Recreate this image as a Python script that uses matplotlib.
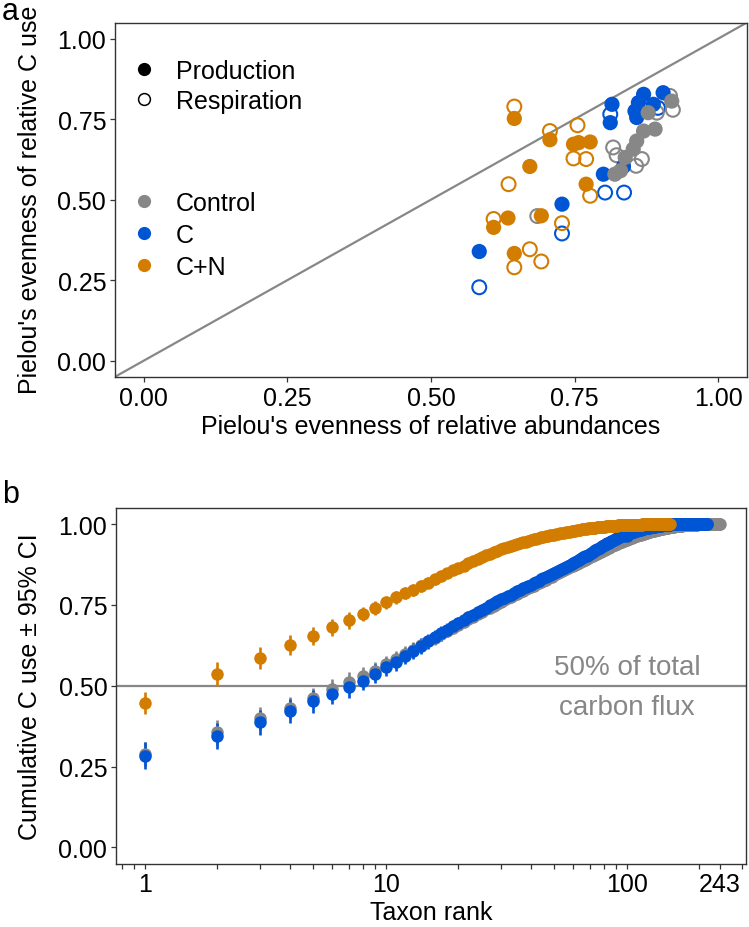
import numpy as np
import matplotlib.pyplot as plt
from matplotlib.lines import Line2D
from matplotlib.ticker import FixedLocator, LogLocator, NullFormatter, FormatStrFormatter

plt.rcParams['font.family'] = ['Liberation Sans', 'DejaVu Sans']

GREY, BLUE, ORANGE = "#878787", "#0055D4", "#D27C00"
INK = "#333333"

# ── panel a: evenness of abundance (x) vs evenness of C use (y) ──────────────
ctrl_prod_x = [0.919, 0.878, 0.890, 0.870, 0.858, 0.852, 0.838, 0.820, 0.830]
ctrl_prod_y = [0.806, 0.770, 0.719, 0.713, 0.682, 0.657, 0.631, 0.579, 0.590]
ctrl_resp_x = [0.916, 0.921, 0.893, 0.872, 0.817, 0.823, 0.867, 0.857, 0.685]
ctrl_resp_y = [0.822, 0.779, 0.770, 0.795, 0.662, 0.638, 0.626, 0.605, 0.449]

c_prod_x = [0.815, 0.812, 0.870, 0.904, 0.861, 0.887, 0.855, 0.858, 0.835, 0.800, 0.728, 0.584]
c_prod_y = [0.796, 0.739, 0.827, 0.832, 0.801, 0.796, 0.775, 0.755, 0.603, 0.579, 0.486, 0.339]
c_resp_x = [0.812, 0.895, 0.803, 0.836, 0.728, 0.584]
c_resp_y = [0.765, 0.785, 0.522, 0.522, 0.395, 0.228]

cn_prod_x = [0.645, 0.707, 0.748, 0.757, 0.777, 0.672, 0.770, 0.692, 0.634, 0.609, 0.645]
cn_prod_y = [0.752, 0.686, 0.672, 0.677, 0.679, 0.603, 0.548, 0.450, 0.443, 0.414, 0.333]
cn_resp_x = [0.645, 0.707, 0.755, 0.748, 0.770, 0.635, 0.777, 0.609, 0.728, 0.672, 0.692, 0.645]
cn_resp_y = [0.789, 0.713, 0.731, 0.628, 0.626, 0.548, 0.512, 0.440, 0.427, 0.346, 0.308, 0.290]

# ── panel b: cumulative C use by taxon rank (mean, 95% CI half-width) ────────
cn_cum = [
    0.447, 0.537, 0.586, 0.626, 0.655, 0.681, 0.702, 0.722, 0.741, 0.758,
    0.774, 0.786, 0.797, 0.808, 0.818, 0.829, 0.839, 0.848, 0.857, 0.865,
    0.872, 0.879, 0.886, 0.892, 0.898, 0.904, 0.909, 0.914, 0.918, 0.922,
    0.926, 0.929, 0.932, 0.935, 0.938, 0.941, 0.944, 0.946, 0.949, 0.951,
    0.953, 0.955, 0.957, 0.959, 0.961, 0.962, 0.964, 0.965, 0.967, 0.968,
    0.969, 0.971, 0.972, 0.973, 0.974, 0.975, 0.976, 0.977, 0.978, 0.979,
    0.980, 0.981, 0.982, 0.983, 0.984, 0.985, 0.985, 0.986, 0.987, 0.987,
    0.988, 0.988, 0.989, 0.989, 0.990, 0.990, 0.991, 0.991, 0.992, 0.992,
    0.992, 0.993, 0.993, 0.993, 0.994, 0.994, 0.994, 0.995, 0.995, 0.995,
    0.995, 0.996, 0.996, 0.996, 0.996, 0.997, 0.997, 0.997, 0.997, 0.997,
    0.998, 0.998, 0.998, 0.998, 0.998, 0.998, 0.998, 0.998, 0.998, 0.998,
    0.998, 0.998, 0.998, 0.998, 0.998, 0.999, 0.999, 0.999, 0.999, 0.999,
    0.999, 0.999, 0.999, 0.999, 0.999, 0.999, 0.999, 0.999, 0.999, 0.999,
    0.999, 0.999, 0.999, 0.999, 0.999, 1.000, 1.000, 1.000, 1.000, 1.000,
    1.000, 1.000, 1.000, 1.000, 1.000, 1.000, 1.000, 1.000, 1.000, 1.000,
    1.000,
]
cn_ci = [
    0.035, 0.037, 0.035, 0.030, 0.028, 0.027, 0.025, 0.023, 0.022, 0.021,
    0.020, 0.019, 0.018, 0.018, 0.017, 0.016, 0.016, 0.015, 0.015, 0.014,
    0.014, 0.013, 0.013, 0.012, 0.012, 0.011, 0.011, 0.011, 0.010, 0.010,
    0.010, 0.009, 0.009, 0.009, 0.009, 0.008, 0.008, 0.008, 0.008, 0.007,
    0.007, 0.007, 0.007, 0.007, 0.006, 0.006, 0.006, 0.006, 0.006, 0.006,
    0.006, 0.006, 0.005, 0.005, 0.005, 0.005, 0.005, 0.005, 0.005, 0.005,
    0.005, 0.004, 0.004, 0.004, 0.004, 0.004, 0.004, 0.004, 0.004, 0.004,
    0.004, 0.003, 0.003, 0.003, 0.003, 0.003, 0.003, 0.003, 0.003, 0.003,
    0.003, 0.003, 0.003, 0.003, 0.003, 0.003, 0.003, 0.003, 0.003, 0.003,
    0.002, 0.002, 0.002, 0.002, 0.002, 0.002, 0.002, 0.002, 0.002, 0.002,
    0.002, 0.002, 0.002, 0.002, 0.002, 0.002, 0.002, 0.002, 0.002, 0.002,
    0.001, 0.001, 0.001, 0.001, 0.001, 0.001, 0.001, 0.001, 0.001, 0.001,
    0.001, 0.001, 0.001, 0.001, 0.001, 0.001, 0.001, 0.001, 0.001, 0.001,
    0.001, 0.001, 0.001, 0.001, 0.001, 0.001, 0.001, 0.001, 0.001, 0.001,
    0.001, 0.001, 0.001, 0.001, 0.001, 0.001, 0.001, 0.001, 0.001, 0.001,
    0.001,
]

c_cum = [
    0.284, 0.344, 0.387, 0.421, 0.452, 0.475, 0.495, 0.516, 0.537, 0.557,
    0.574, 0.592, 0.608, 0.623, 0.637, 0.650, 0.662, 0.673, 0.684, 0.694,
    0.703, 0.712, 0.720, 0.728, 0.735, 0.742, 0.749, 0.755, 0.761, 0.767,
    0.772, 0.777, 0.782, 0.787, 0.792, 0.797, 0.801, 0.805, 0.809, 0.813,
    0.817, 0.821, 0.825, 0.829, 0.832, 0.836, 0.839, 0.843, 0.846, 0.849,
    0.853, 0.856, 0.859, 0.862, 0.865, 0.868, 0.871, 0.874, 0.877, 0.880,
    0.883, 0.886, 0.889, 0.892, 0.894, 0.897, 0.900, 0.902, 0.905, 0.908,
    0.911, 0.914, 0.917, 0.919, 0.922, 0.924, 0.927, 0.929, 0.932, 0.934,
    0.936, 0.938, 0.941, 0.943, 0.945, 0.947, 0.949, 0.951, 0.953, 0.955,
    0.956, 0.958, 0.960, 0.961, 0.963, 0.964, 0.966, 0.967, 0.968, 0.962,
    0.971, 0.972, 0.973, 0.974, 0.975, 0.976, 0.977, 0.978, 0.979, 0.980,
    0.981, 0.982, 0.982, 0.983, 0.984, 0.985, 0.985, 0.986, 0.987, 0.987,
    0.988, 0.988, 0.989, 0.989, 0.990, 0.990, 0.991, 0.991, 0.992, 0.992,
    0.992, 0.993, 0.993, 0.994, 0.994, 0.994, 0.995, 0.995, 0.995, 0.996,
    0.996, 0.996, 0.997, 0.997, 0.997, 0.997, 0.998, 0.998, 0.998, 0.998,
    0.998, 0.999, 0.999, 0.999, 0.999, 0.999, 0.999, 0.999, 0.999, 0.999,
    0.999, 0.999, 0.999, 0.999, 0.999, 0.999, 0.999, 0.999, 0.999, 0.999,
    0.999, 0.999, 0.999, 0.999, 0.999, 0.999, 0.999, 0.999, 0.999, 0.999,
    1.000, 1.000, 1.000, 1.000, 1.000, 1.000, 1.000, 1.000, 1.000, 1.000,
    1.000, 1.000, 1.000, 1.000, 1.000, 1.000, 1.000, 1.000, 1.000, 1.000,
    1.000, 1.000, 1.000, 1.000, 1.000, 1.000, 1.000, 1.000, 1.000, 1.000,
    1.000, 1.000, 1.000, 1.000, 1.000,
]
c_ci = [
    0.041, 0.041, 0.039, 0.037, 0.035, 0.033, 0.032, 0.030, 0.029, 0.028,
    0.027, 0.026, 0.025, 0.024, 0.023, 0.022, 0.022, 0.021, 0.020, 0.020,
    0.019, 0.019, 0.018, 0.018, 0.017, 0.017, 0.016, 0.016, 0.015, 0.015,
    0.015, 0.014, 0.014, 0.014, 0.013, 0.013, 0.013, 0.012, 0.012, 0.012,
    0.012, 0.011, 0.011, 0.011, 0.011, 0.010, 0.010, 0.010, 0.010, 0.010,
    0.009, 0.009, 0.009, 0.009, 0.009, 0.009, 0.009, 0.009, 0.009, 0.009,
    0.008, 0.008, 0.008, 0.008, 0.008, 0.008, 0.008, 0.008, 0.008, 0.008,
    0.007, 0.007, 0.007, 0.007, 0.007, 0.007, 0.007, 0.007, 0.007, 0.007,
    0.006, 0.006, 0.006, 0.006, 0.006, 0.006, 0.006, 0.006, 0.006, 0.006,
    0.005, 0.005, 0.005, 0.005, 0.005, 0.005, 0.005, 0.005, 0.005, 0.008,
    0.004, 0.004, 0.004, 0.004, 0.004, 0.004, 0.004, 0.004, 0.004, 0.004,
    0.004, 0.004, 0.004, 0.004, 0.004, 0.004, 0.004, 0.004, 0.004, 0.004,
    0.003, 0.003, 0.003, 0.003, 0.003, 0.003, 0.003, 0.003, 0.003, 0.003,
    0.003, 0.003, 0.003, 0.003, 0.003, 0.003, 0.003, 0.003, 0.003, 0.003,
    0.002, 0.002, 0.002, 0.002, 0.002, 0.002, 0.002, 0.002, 0.002, 0.002,
    0.002, 0.002, 0.002, 0.002, 0.002, 0.002, 0.002, 0.002, 0.002, 0.002,
    0.002, 0.002, 0.002, 0.002, 0.002, 0.002, 0.002, 0.002, 0.002, 0.002,
    0.001, 0.001, 0.001, 0.001, 0.001, 0.001, 0.001, 0.001, 0.001, 0.001,
    0.001, 0.001, 0.001, 0.001, 0.001, 0.001, 0.001, 0.001, 0.001, 0.001,
    0.001, 0.001, 0.001, 0.001, 0.001, 0.001, 0.001, 0.001, 0.001, 0.001,
    0.001, 0.001, 0.001, 0.001, 0.001, 0.001, 0.001, 0.001, 0.001, 0.001,
    0.001, 0.001, 0.001, 0.001, 0.001,
]

ctrl_cum = [
    0.289, 0.356, 0.399, 0.432, 0.462, 0.490, 0.511, 0.531, 0.547, 0.567,
    0.583, 0.598, 0.612, 0.625, 0.637, 0.648, 0.659, 0.669, 0.679, 0.689,
    0.698, 0.706, 0.714, 0.722, 0.729, 0.736, 0.742, 0.748, 0.754, 0.760,
    0.765, 0.770, 0.775, 0.780, 0.785, 0.790, 0.794, 0.798, 0.802, 0.806,
    0.810, 0.814, 0.818, 0.821, 0.825, 0.828, 0.832, 0.835, 0.838, 0.842,
    0.845, 0.848, 0.851, 0.854, 0.857, 0.860, 0.863, 0.866, 0.869, 0.872,
    0.874, 0.877, 0.880, 0.882, 0.885, 0.887, 0.890, 0.892, 0.895, 0.897,
    0.900, 0.902, 0.904, 0.907, 0.909, 0.911, 0.913, 0.915, 0.917, 0.919,
    0.921, 0.923, 0.925, 0.927, 0.929, 0.931, 0.933, 0.934, 0.936, 0.938,
    0.939, 0.941, 0.942, 0.944, 0.945, 0.947, 0.948, 0.950, 0.951, 0.952,
    0.954, 0.955, 0.956, 0.957, 0.958, 0.960, 0.961, 0.962, 0.963, 0.964,
    0.965, 0.966, 0.967, 0.968, 0.969, 0.970, 0.971, 0.971, 0.972, 0.973,
    0.974, 0.975, 0.975, 0.976, 0.977, 0.978, 0.978, 0.979, 0.980, 0.980,
    0.981, 0.982, 0.982, 0.983, 0.983, 0.984, 0.984, 0.985, 0.985, 0.986,
    0.986, 0.987, 0.987, 0.988, 0.988, 0.988, 0.989, 0.989, 0.990, 0.990,
    0.990, 0.991, 0.991, 0.991, 0.992, 0.992, 0.992, 0.993, 0.993, 0.993,
    0.993, 0.994, 0.994, 0.994, 0.994, 0.995, 0.995, 0.995, 0.995, 0.996,
    0.996, 0.996, 0.996, 0.996, 0.997, 0.997, 0.997, 0.997, 0.997, 0.997,
    0.998, 0.998, 0.998, 0.998, 0.998, 0.998, 0.998, 0.998, 0.998, 0.998,
    0.998, 0.998, 0.998, 0.998, 0.998, 0.999, 0.999, 0.999, 0.999, 0.999,
    0.999, 0.999, 0.999, 0.999, 0.999, 0.999, 0.999, 0.999, 0.999, 0.999,
    0.999, 0.999, 0.999, 0.999, 0.999, 0.999, 0.999, 0.999, 0.999, 0.999,
    1.000, 1.000, 1.000, 1.000, 1.000, 1.000, 1.000, 1.000, 1.000, 1.000,
    1.000, 1.000, 1.000, 1.000, 1.000, 1.000, 1.000, 1.000, 1.000, 1.000,
    1.000, 1.000, 1.000,
]
ctrl_ci = [
    0.038, 0.038, 0.036, 0.034, 0.032, 0.031, 0.030, 0.028, 0.027, 0.026,
    0.025, 0.024, 0.023, 0.022, 0.021, 0.021, 0.020, 0.019, 0.019, 0.018,
    0.018, 0.017, 0.017, 0.016, 0.016, 0.015, 0.015, 0.015, 0.014, 0.014,
    0.014, 0.013, 0.013, 0.013, 0.012, 0.012, 0.012, 0.011, 0.011, 0.011,
    0.011, 0.010, 0.010, 0.010, 0.010, 0.009, 0.009, 0.009, 0.009, 0.009,
    0.008, 0.008, 0.008, 0.008, 0.008, 0.008, 0.008, 0.008, 0.008, 0.008,
    0.007, 0.007, 0.007, 0.007, 0.007, 0.007, 0.007, 0.007, 0.007, 0.007,
    0.006, 0.006, 0.006, 0.006, 0.006, 0.006, 0.006, 0.006, 0.006, 0.006,
    0.005, 0.005, 0.005, 0.005, 0.005, 0.005, 0.005, 0.005, 0.005, 0.005,
    0.005, 0.005, 0.005, 0.005, 0.005, 0.005, 0.005, 0.005, 0.005, 0.005,
    0.004, 0.004, 0.004, 0.004, 0.004, 0.004, 0.004, 0.004, 0.004, 0.004,
    0.004, 0.004, 0.004, 0.004, 0.004, 0.004, 0.004, 0.004, 0.004, 0.004,
    0.003, 0.003, 0.003, 0.003, 0.003, 0.003, 0.003, 0.003, 0.003, 0.003,
    0.003, 0.003, 0.003, 0.003, 0.003, 0.003, 0.003, 0.003, 0.003, 0.003,
    0.003, 0.003, 0.003, 0.003, 0.003, 0.003, 0.003, 0.003, 0.003, 0.003,
    0.002, 0.002, 0.002, 0.002, 0.002, 0.002, 0.002, 0.002, 0.002, 0.002,
    0.002, 0.002, 0.002, 0.002, 0.002, 0.002, 0.002, 0.002, 0.002, 0.002,
    0.002, 0.002, 0.002, 0.002, 0.002, 0.002, 0.002, 0.002, 0.002, 0.002,
    0.001, 0.001, 0.001, 0.001, 0.001, 0.001, 0.001, 0.001, 0.001, 0.001,
    0.001, 0.001, 0.001, 0.001, 0.001, 0.001, 0.001, 0.001, 0.001, 0.001,
    0.001, 0.001, 0.001, 0.001, 0.001, 0.001, 0.001, 0.001, 0.001, 0.001,
    0.001, 0.001, 0.001, 0.001, 0.001, 0.001, 0.001, 0.001, 0.001, 0.001,
    0.001, 0.001, 0.001, 0.001, 0.001, 0.001, 0.001, 0.001, 0.001, 0.001,
    0.001, 0.001, 0.001, 0.001, 0.001, 0.001, 0.001, 0.001, 0.001, 0.001,
    0.001, 0.001, 0.001,
]

rank_ticks = [1, 10, 100, 243]

W, H = 749, 928
FS = 18


def box(left, top, right, bottom):
    """Axes rectangle from pixel edges (origin top-left)."""
    return [left / W, 1 - bottom / H, (right - left) / W, (bottom - top) / H]


def style_axes(ax):
    for sp in ax.spines.values():
        sp.set_color(INK)
        sp.set_linewidth(1.0)
    ax.tick_params(which="both", direction="out", length=3.8, width=0.9,
                   color=INK, labelsize=FS, labelcolor="black", pad=2.5)


fig = plt.figure(figsize=(W / 100, H / 100), dpi=100, facecolor="white")

# ── panel a ──────────────────────────────────────────────────────────────────
ax = fig.add_axes(box(115, 23.5, 747, 377.8))
ax.axline((0, 0), (1, 1), color=GREY, lw=1.6, zorder=1)

for xs, ys, col in [(c_resp_x, c_resp_y, BLUE),
                    (ctrl_resp_x, ctrl_resp_y, GREY),
                    (cn_resp_x, cn_resp_y, ORANGE)]:
    ax.scatter(xs, ys, s=100, facecolors="none", edgecolors=col,
               linewidths=1.5, zorder=2)
for xs, ys, col in [(c_prod_x, c_prod_y, BLUE),
                    (ctrl_prod_x, ctrl_prod_y, GREY),
                    (cn_prod_x, cn_prod_y, ORANGE)]:
    ax.scatter(xs, ys, s=120, color=col, edgecolors="none", zorder=3)

ax.set_xlim(-0.05, 1.05)
ax.set_ylim(-0.05, 1.05)
ticks = [0, 0.25, 0.5, 0.75, 1.0]
ax.set_xticks(ticks)
ax.set_yticks(ticks)
ax.xaxis.set_major_formatter(FormatStrFormatter("%.2f"))
ax.yaxis.set_major_formatter(FormatStrFormatter("%.2f"))
style_axes(ax)
ax.set_xlabel("Pielou's evenness of relative abundances", fontsize=FS, labelpad=3)

h_type = [Line2D([], [], ls="none", marker="o", ms=9.5, mfc="black", mec="black", mew=0),
          Line2D([], [], ls="none", marker="o", ms=8.5, mfc="none", mec="black", mew=1.1)]
leg1 = ax.legend(h_type, ["Production", "Respiration"], loc="upper left",
                 bbox_to_anchor=(131 / W, 1 - 60 / H), bbox_transform=fig.transFigure,
                 frameon=False, borderpad=0, borderaxespad=0, handlelength=1.0,
                 handletextpad=0.8, labelspacing=0.24, fontsize=FS)
ax.add_artist(leg1)
h_trt = [Line2D([], [], ls="none", marker="o", ms=9.5, mfc=c, mec=c, mew=0)
         for c in (GREY, BLUE, ORANGE)]
ax.legend(h_trt, ["Control", "C", "C+N"], loc="upper left",
          bbox_to_anchor=(131 / W, 1 - 192 / H), bbox_transform=fig.transFigure,
          frameon=False, borderpad=0, borderaxespad=0, handlelength=1.0,
          handletextpad=0.8, labelspacing=0.32, fontsize=FS)

fig.text(30 / W, 1 - 200 / H, "Pielou's evenness of relative C use", rotation=90,
         ha="center", va="center", fontsize=FS)
fig.text(2 / W, 1 - 20 / H, "a", fontsize=22, va="baseline")

# ── panel b ──────────────────────────────────────────────────────────────────
bx = fig.add_axes(box(116, 509, 746, 864.5))
bx.axhline(0.5, color=GREY, lw=1.6, zorder=1)

for vals, ci, col in [(ctrl_cum, ctrl_ci, GREY),
                      (c_cum, c_ci, BLUE),
                      (cn_cum, cn_ci, ORANGE)]:
    rank = np.arange(1, len(vals) + 1)
    bx.errorbar(rank, vals, yerr=ci, fmt="o", color=col, ms=9, mew=0,
                elinewidth=1.9, capsize=3.6, capthick=1.9, zorder=2)

bx.text(100, 0.537, "50% of total", color=GREY, fontsize=20,
        ha="center", va="baseline")
bx.text(100, 0.413, "carbon flux", color=GREY, fontsize=20,
        ha="center", va="baseline")

bx.set_xscale("log")
bx.set_xlim(10 ** -0.12, 10 ** 2.494)
bx.set_ylim(-0.05, 1.05)
bx.xaxis.set_major_locator(FixedLocator(rank_ticks))
bx.set_xticklabels([str(t) for t in rank_ticks])
bx.xaxis.set_minor_locator(LogLocator(base=10, subs=np.arange(2, 10)))
bx.xaxis.set_minor_formatter(NullFormatter())
bx.set_yticks(ticks)
bx.yaxis.set_major_formatter(FormatStrFormatter("%.2f"))
style_axes(bx)
bx.set_xlabel("Taxon rank", fontsize=FS, labelpad=3)

fig.text(30 / W, 1 - 687 / H, "Cumulative C use \u00b1 95% CI", rotation=90,
         ha="center", va="center", fontsize=FS)
fig.text(2 / W, 1 - 503 / H, "b", fontsize=22, va="baseline")

fig.savefig("out.png", dpi=100, facecolor="white")
